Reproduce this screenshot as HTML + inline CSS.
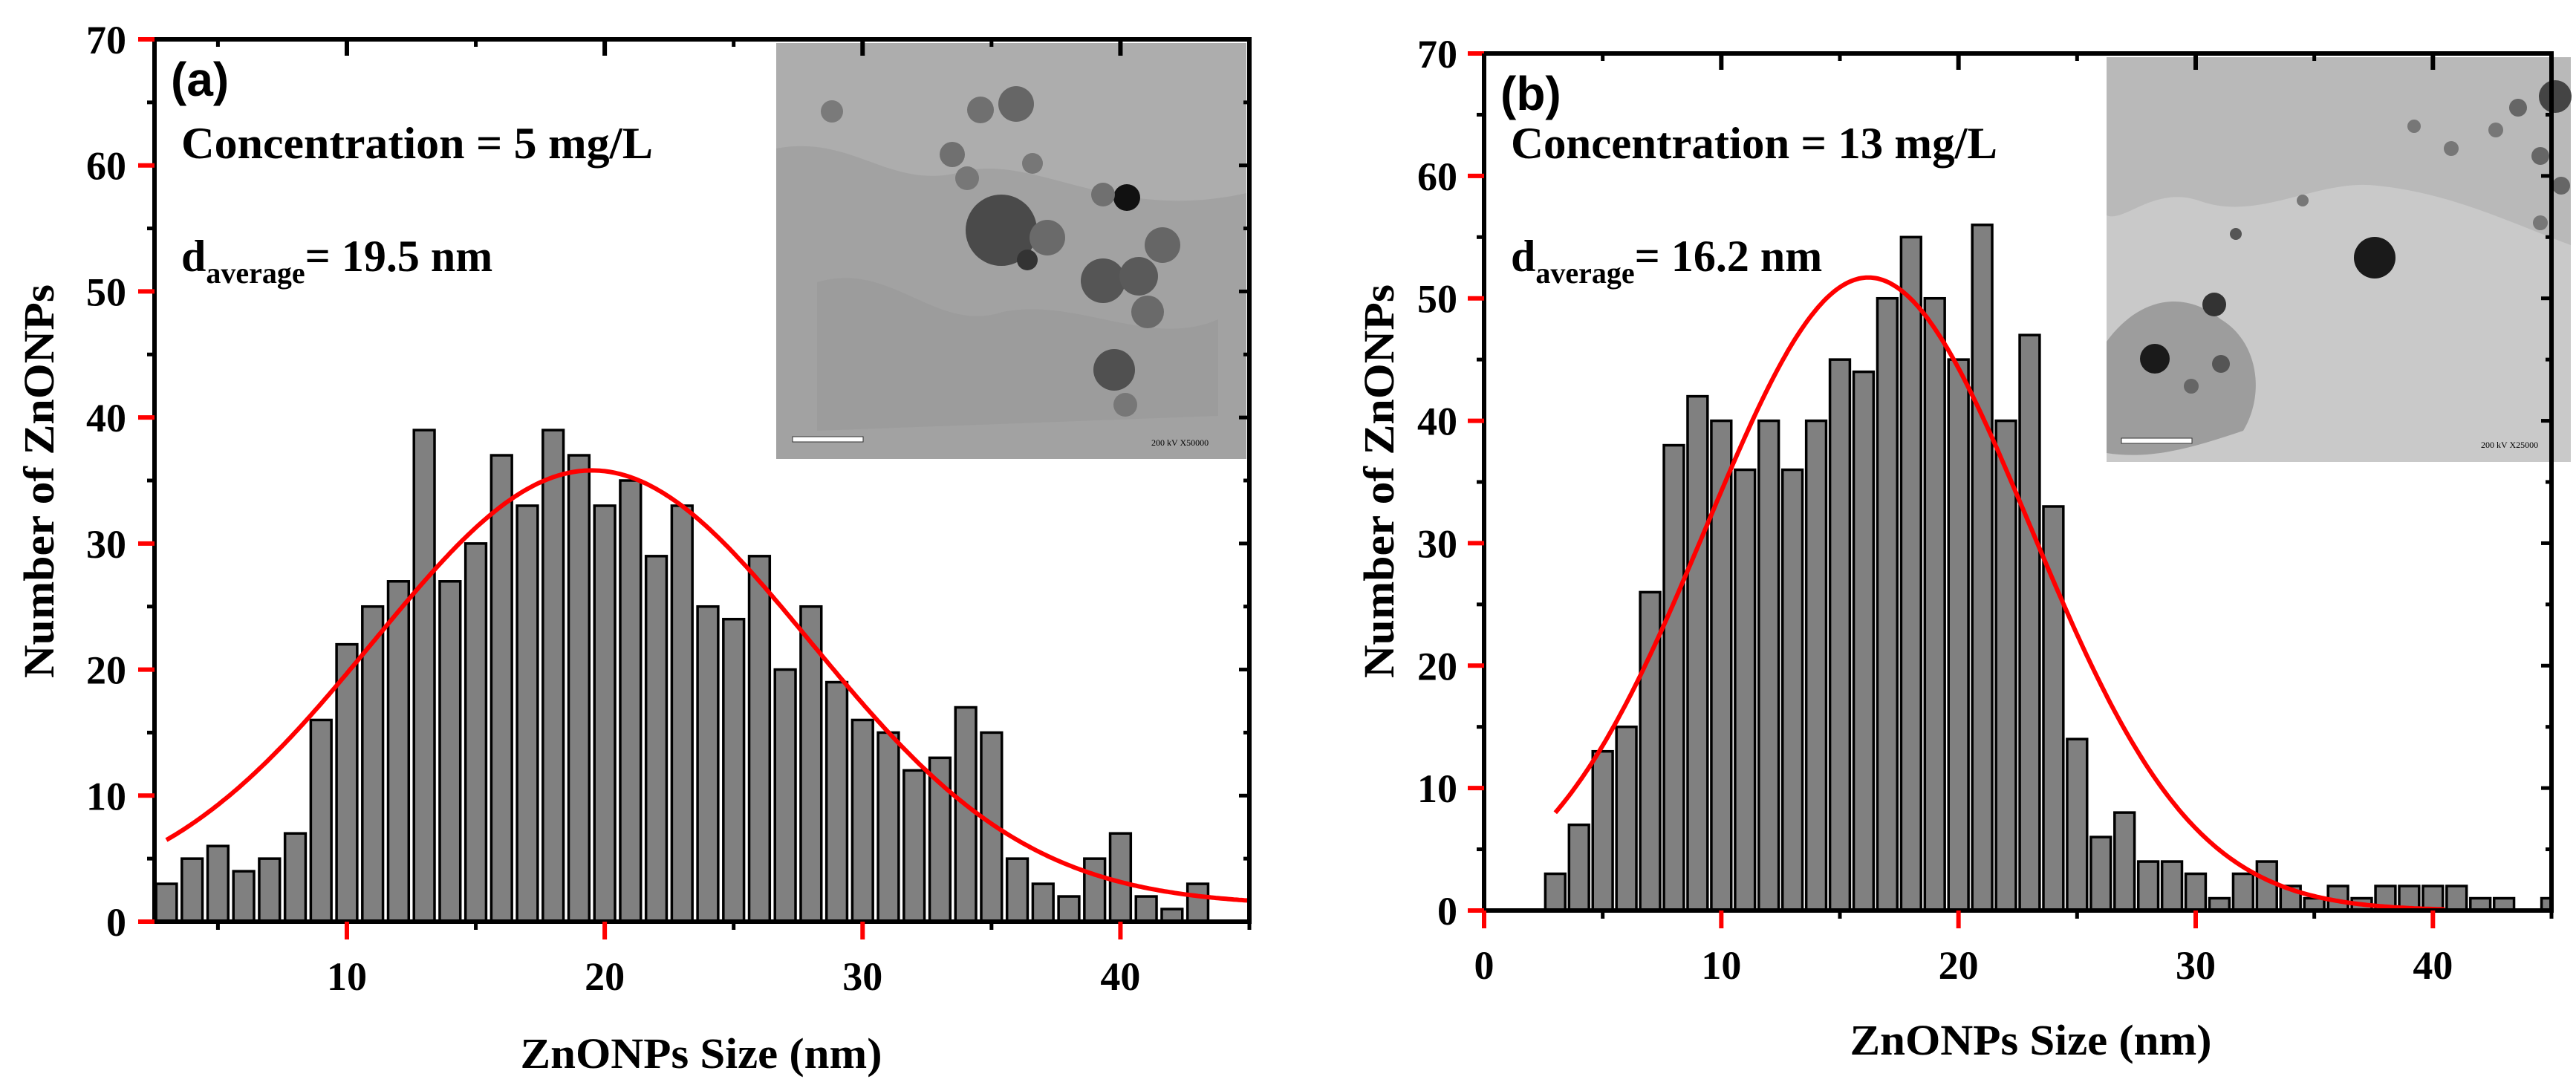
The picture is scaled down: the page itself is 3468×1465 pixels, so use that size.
<!DOCTYPE html>
<html><head><meta charset="utf-8"><style>
html,body{margin:0;padding:0;background:#fff;}
svg{display:block;}
text{font-family:"Liberation Serif",serif;font-weight:bold;fill:#000;}
.lbl{font-family:"Liberation Sans",sans-serif;}
</style></head><body>
<svg id="fig" width="3468" height="1465" viewBox="0 0 3468 1465" xmlns="http://www.w3.org/2000/svg">
<g id="pa"></g>
<g id="pb"></g>
</svg>
<script>
// ---- data ----
const binsA = [3,4,5,6,7,8,9,10,11,12,13,14,15,16,17,18,19,20,21,22,23,24,25,26,27,28,29,30,31,32,33,34,35,36,37,38,39,40,41,42,43];
const countsA = [3,5,6,4,5,7,16,22,25,27,39,27,30,37,33,39,37,33,35,29,33,25,24,29,20,25,19,16,15,12,13,17,15,5,3,2,5,7,2,1,3];
const binsB = [3,4,5,6,7,8,9,10,11,12,13,14,15,16,17,18,19,20,21,22,23,24,25,26,27,28,29,30,31,32,33,34,35,36,37,38,39,40,41,42,43,45];
const countsB = [3,7,13,15,26,38,42,40,36,40,36,40,45,44,50,55,50,45,56,40,47,33,14,6,8,4,4,3,1,3,4,2,1,2,1,2,2,2,2,1,1,1];
const fitA = [19.5, 34.5, 8.47, 1.3]; // mean, amplitude, sigma, offset
const fitB = [16.2, 51.7, 6.83, 0];
const fitRangeA = [3, 45];
const fitRangeB = [3, 40.5];
const yTicks = [0,10,20,30,40,50,60,70];
const xTicksA = [10,20,30,40];
const xTicksB = [0,10,20,30,40];

const NS = "http://www.w3.org/2000/svg";
function el(parent, tag, attrs, txt){
  const e = document.createElementNS(NS, tag);
  for (const k in attrs) e.setAttribute(k, attrs[k]);
  if (txt !== undefined) e.textContent = txt;
  parent.appendChild(e);
  return e;
}

function panel(g, cfg){
  const sx = v => cfg.x0 + (v - cfg.xmin) / (cfg.xmax - cfg.xmin) * (cfg.x1 - cfg.x0);
  const sy = v => cfg.y0 - v / 70 * (cfg.y0 - cfg.y1);
  const unit = sx(1) - sx(0);
  // clip
  const cpId = 'clip' + cfg.id;
  const defs = el(g, 'defs', {});
  const cp = el(defs, 'clipPath', {id: cpId});
  el(cp, 'rect', {x: cfg.x0, y: cfg.y1, width: cfg.x1 - cfg.x0, height: cfg.y0 - cfg.y1});
  // inset image
  const ins = el(g, 'g', {});
  
  
  cfg.inset(ins);
  // bars
  const bars = el(g, 'g', {'clip-path': 'url(#' + cpId + ')'});
  
  
  cfg.bins.forEach((b, i) => {
    const w = unit * cfg.bw;
    const r = el(bars, 'rect', {x: sx(b) - w/2, y: sy(cfg.counts[i]), width: w, height: sy(0) - sy(cfg.counts[i]), fill: '#808080', stroke: '#000', 'stroke-width': 3.5});
    
    
  });
  // fit
  const [m, A, s, off] = cfg.fit;
  let d = '';
  for (let x = cfg.fitRange[0]; x <= cfg.fitRange[1] + 1e-9; x += 0.1){
    const y = off + A * Math.exp(-(x-m)*(x-m)/(2*s*s));
    d += (d ? 'L' : 'M') + sx(x).toFixed(1) + ',' + sy(y).toFixed(1);
  }
  const fp = el(g, 'path', {d: d, fill: 'none', stroke: '#ff0000', 'stroke-width': 6, 'clip-path': 'url(#' + cpId + ')'});
  
  
  // frame
  const fr = el(g, 'rect', {x: cfg.x0, y: cfg.y1, width: cfg.x1 - cfg.x0, height: cfg.y0 - cfg.y1, fill: 'none', stroke: '#000', 'stroke-width': 6});
  
  
  // y ticks
  const ya = el(g, 'g', {});
  
  
  yTicks.forEach(t => {
    const y = sy(t);
    el(ya, 'line', {x1: cfg.x0 - 22, x2: cfg.x0, y1: y, y2: y, stroke: '#ff0000', 'stroke-width': 6});
    el(ya, 'line', {x1: cfg.x1 - 14, x2: cfg.x1, y1: y, y2: y, stroke: '#000', 'stroke-width': 5});
    if (t < 70){
      const ym = sy(t + 5);
      el(ya, 'line', {x1: cfg.x0 - 10, x2: cfg.x0, y1: ym, y2: ym, stroke: '#000', 'stroke-width': 5});
      el(ya, 'line', {x1: cfg.x1 - 8, x2: cfg.x1, y1: ym, y2: ym, stroke: '#000', 'stroke-width': 5});
    }
    const tl = el(ya, 'text', {x: cfg.ylabX, y: y + 19, 'text-anchor': 'end', 'font-size': 54}, String(t));
    
    
  });
  // x ticks
  const xa = el(g, 'g', {});
  
  
  for (let v = 0; v <= 45; v += 5){
    if (v < cfg.xmin - 0.01) continue;
    const x = sx(v), major = v % 10 === 0;
    if (major){
      el(xa, 'line', {x1: x, x2: x, y1: cfg.y0, y2: cfg.y0 + 24, stroke: '#ff0000', 'stroke-width': 6});
      el(xa, 'line', {x1: x, x2: x, y1: cfg.y1, y2: cfg.y1 + 22, stroke: '#000', 'stroke-width': 6});
    } else {
      el(xa, 'line', {x1: x, x2: x, y1: cfg.y0, y2: cfg.y0 + 11, stroke: '#000', 'stroke-width': 5});
      el(xa, 'line', {x1: x, x2: x, y1: cfg.y1, y2: cfg.y1 + 10, stroke: '#000', 'stroke-width': 5});
    }
  }
  cfg.xTicks.forEach(t => {
    const tl = el(xa, 'text', {x: sx(t), y: cfg.xlabY, 'text-anchor': 'middle', 'font-size': 54}, String(t));
    
    
  });
  // titles
  const yt = el(g, 'text', {x: 0, y: 0, 'text-anchor': 'middle', 'font-size': 58, transform: 'translate(' + cfg.ytX + ',648) rotate(-90)', textLength: 530, lengthAdjust: 'spacingAndGlyphs'}, 'Number of ZnONPs');
  
  
  const xt = el(g, 'text', {x: cfg.xtX, y: cfg.xtY, 'text-anchor': 'middle', 'font-size': 58, textLength: 487, lengthAdjust: 'spacingAndGlyphs'}, 'ZnONPs Size (nm)');
  
  
  // annotations
  const pl = el(g, 'text', {x: cfg.x0 + 22, y: cfg.y1 + 76, 'font-size': 64, class: 'lbl'}, cfg.label);
  
  
  const ct = el(g, 'text', {x: cfg.x0 + 36, y: 213, 'font-size': 60, textLength: cfg.concLen, lengthAdjust: 'spacingAndGlyphs'}, cfg.conc);
  
  
  const da = el(g, 'text', {x: cfg.x0 + 36, y: 365, 'font-size': 60}, '');
  
  
  el(da, 'tspan', {}, 'd');
  el(da, 'tspan', {'font-size': 40, dy: 16}, 'average');
  el(da, 'tspan', {dy: -16}, '= ' + cfg.davg + ' nm');
}

function insetA(g){
  el(g, 'rect', {x: 1045, y: 58, width: 633, height: 560, fill: '#adadad'});
  el(g, 'path', {d: 'M1045,200 C1150,180 1200,260 1300,230 C1400,210 1500,300 1678,260 L1678,618 L1045,618 Z', fill: '#a2a2a2'});
  el(g, 'path', {d: 'M1100,380 C1200,350 1260,450 1350,420 C1450,400 1550,470 1640,430 L1640,560 L1100,580 Z', fill: '#9c9c9c'});
  const circ = [[1348,310,48,'#4a4a4a'],[1517,266,18,'#111'],[1485,378,30,'#555'],[1533,372,26,'#5a5a5a'],[1565,330,24,'#666'],[1500,498,28,'#505050'],[1545,420,22,'#6a6a6a'],[1368,140,24,'#666'],[1320,148,18,'#707070'],[1282,208,17,'#707070'],[1302,240,16,'#777'],[1390,220,14,'#777'],[1410,320,24,'#6a6a6a'],[1383,350,14,'#333'],[1120,150,15,'#7a7a7a'],[1485,262,16,'#707070'],[1515,545,16,'#777']];
  circ.forEach(c => el(g, 'circle', {cx: c[0], cy: c[1], r: c[2], fill: c[3]}));
  el(g, 'rect', {x: 1067, y: 588, width: 95, height: 7, fill: '#fff', stroke: '#333', 'stroke-width': 1});
  el(g, 'text', {x: 1550, y: 600, 'font-size': 12, style: 'font-weight:normal'}, '200 kV  X50000');
}
function insetB(g){
  el(g, 'rect', {x: 2836, y: 77, width: 625, height: 545, fill: '#c9c9c9'});
  el(g, 'path', {d: 'M2836,77 L3461,77 L3461,330 C3380,300 3300,260 3200,250 C3120,240 3040,300 2960,270 C2900,250 2860,300 2836,290 Z', fill: '#b9b9b9'});
  el(g, 'path', {d: 'M2836,460 C2880,400 2940,390 2990,430 C3040,460 3050,530 3020,580 C2960,600 2900,620 2836,610 Z', fill: '#9d9d9d'});
  const circ = [[3197,347,28,'#1a1a1a'],[2901,483,20,'#1a1a1a'],[2981,410,16,'#333'],[3440,130,22,'#444'],[3390,145,12,'#666'],[3360,175,10,'#777'],[3250,170,9,'#777'],[3420,210,12,'#666'],[2990,490,12,'#555'],[2950,520,10,'#666'],[3010,315,8,'#555'],[3100,270,8,'#777'],[3300,200,10,'#777'],[3448,250,12,'#666'],[3420,300,10,'#777']];
  circ.forEach(c => el(g, 'circle', {cx: c[0], cy: c[1], r: c[2], fill: c[3]}));
  el(g, 'rect', {x: 2856, y: 590, width: 95, height: 7, fill: '#fff', stroke: '#333', 'stroke-width': 1});
  el(g, 'text', {x: 3340, y: 603, 'font-size': 12, style: 'font-weight:normal'}, '200 kV  X25000');
}

panel(document.getElementById('pa'), {id: 'a', x0: 208, x1: 1682, xmin: 2.54, xmax: 45, y0: 1241, y1: 53,
  bins: binsA, counts: countsA, bw: 0.8, fit: fitA, fitRange: fitRangeA, xTicks: xTicksA,
  ylabX: 170, xlabY: 1333, ytX: 72, xtX: 944, xtY: 1438, label: '(a)', conc: 'Concentration = 5 mg/L',
  concLen: 635, davg: '19.5', inset: insetA});
panel(document.getElementById('pb'), {id: 'b', x0: 1998, x1: 3435, xmin: 0, xmax: 45, y0: 1226, y1: 72,
  bins: binsB, counts: countsB, bw: 0.84, fit: fitB, fitRange: fitRangeB, xTicks: xTicksB,
  ylabX: 1962, xlabY: 1318, ytX: 1876, xtX: 2734, xtY: 1420, label: '(b)', conc: 'Concentration = 13 mg/L',
  concLen: 655, davg: '16.2', inset: insetB});
</script>
</body></html>
